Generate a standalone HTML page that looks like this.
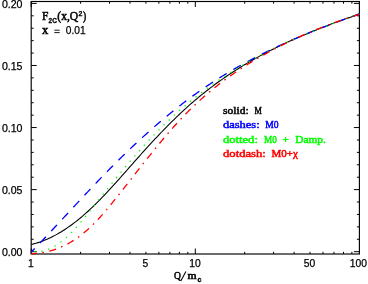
<!DOCTYPE html>
<html><head><meta charset="utf-8">
<style>
html,body{margin:0;padding:0;background:#fff;}
body{width:368px;height:284px;overflow:hidden;}
svg{display:block;will-change:transform;}
text{font-family:"Liberation Sans",sans-serif;}
.num{font-family:"Liberation Sans",sans-serif;font-size:10.3px;fill:#000;stroke:#000;stroke-width:0.25;font-weight:normal;}
.ser,.ser text{font-family:"Liberation Serif",serif;font-weight:normal;font-size:11.4px;stroke-width:0.55;word-spacing:2.5px;}
.k{fill:#000;stroke:#000} .b{fill:#00f;stroke:#00f} .g{fill:#0f0;stroke:#0f0} .r{fill:#f00;stroke:#f00}
</style></head><body>
<svg width="368" height="284" viewBox="0 0 368 284">
<rect x="0" y="0" width="368" height="284" fill="#fff"/>
<rect x="31.2" y="1.5" width="328.20" height="252.50" fill="none" stroke="#000" stroke-width="1.15"/>
<path d="M31.20 251.70h5.5 M359.40 251.70h-5.5 M31.20 239.28h2.5 M359.40 239.28h-2.5 M31.20 226.87h2.5 M359.40 226.87h-2.5 M31.20 214.45h2.5 M359.40 214.45h-2.5 M31.20 202.04h2.5 M359.40 202.04h-2.5 M31.20 189.62h5.5 M359.40 189.62h-5.5 M31.20 177.21h2.5 M359.40 177.21h-2.5 M31.20 164.79h2.5 M359.40 164.79h-2.5 M31.20 152.38h2.5 M359.40 152.38h-2.5 M31.20 139.97h2.5 M359.40 139.97h-2.5 M31.20 127.55h5.5 M359.40 127.55h-5.5 M31.20 115.13h2.5 M359.40 115.13h-2.5 M31.20 102.72h2.5 M359.40 102.72h-2.5 M31.20 90.31h2.5 M359.40 90.31h-2.5 M31.20 77.89h2.5 M359.40 77.89h-2.5 M31.20 65.48h5.5 M359.40 65.48h-5.5 M31.20 53.06h2.5 M359.40 53.06h-2.5 M31.20 40.65h2.5 M359.40 40.65h-2.5 M31.20 28.23h2.5 M359.40 28.23h-2.5 M31.20 15.81h2.5 M359.40 15.81h-2.5 M31.20 3.40h5.5 M359.40 3.40h-5.5 M31.20 254.00v-5.5 M31.20 1.50v5.5 M80.60 254.00v-2.2 M80.60 1.50v2.2 M109.50 254.00v-2.2 M109.50 1.50v2.2 M130.00 254.00v-2.2 M130.00 1.50v2.2 M145.90 254.00v-2.2 M145.90 1.50v2.2 M158.89 254.00v-2.2 M158.89 1.50v2.2 M169.88 254.00v-2.2 M169.88 1.50v2.2 M179.40 254.00v-2.2 M179.40 1.50v2.2 M187.79 254.00v-2.2 M187.79 1.50v2.2 M195.30 254.00v-5.5 M195.30 1.50v5.5 M244.70 254.00v-2.2 M244.70 1.50v2.2 M273.60 254.00v-2.2 M273.60 1.50v2.2 M294.10 254.00v-2.2 M294.10 1.50v2.2 M310.00 254.00v-2.2 M310.00 1.50v2.2 M322.99 254.00v-2.2 M322.99 1.50v2.2 M333.98 254.00v-2.2 M333.98 1.50v2.2 M343.50 254.00v-2.2 M343.50 1.50v2.2 M351.89 254.00v-2.2 M351.89 1.50v2.2" stroke="#000" stroke-width="1" fill="none"/>
<g fill="none" stroke-width="1.3">
<path d="M31.20 244.45 L32.57 244.14 L33.95 243.79 L35.32 243.42 L36.69 243.03 L38.07 242.61 L39.44 242.16 L40.81 241.69 L42.19 241.19 L43.56 240.67 L44.93 240.12 L46.31 239.55 L47.68 238.96 L49.05 238.34 L50.43 237.69 L51.80 237.02 L53.17 236.33 L54.54 235.62 L55.92 234.88 L57.29 234.11 L58.66 233.33 L60.04 232.52 L61.41 231.68 L62.78 230.83 L64.16 229.95 L65.53 229.05 L66.90 228.13 L68.28 227.18 L69.65 226.22 L71.02 225.23 L72.40 224.22 L73.77 223.19 L75.14 222.14 L76.52 221.06 L77.89 219.97 L79.26 218.85 L80.64 217.72 L82.01 216.56 L83.38 215.38 L84.76 214.19 L86.13 212.97 L87.50 211.73 L88.88 210.48 L90.25 209.20 L91.62 207.91 L92.99 206.59 L94.37 205.26 L95.74 203.91 L97.11 202.55 L98.49 201.17 L99.86 199.78 L101.23 198.37 L102.61 196.94 L103.98 195.51 L105.35 194.06 L106.73 192.60 L108.10 191.13 L109.47 189.65 L110.85 188.15 L112.22 186.65 L113.59 185.15 L114.97 183.63 L116.34 182.11 L117.71 180.58 L119.09 179.04 L120.46 177.50 L121.83 175.96 L123.21 174.41 L124.58 172.86 L125.95 171.30 L127.33 169.75 L128.70 168.19 L130.07 166.63 L131.45 165.08 L132.82 163.52 L134.19 161.97 L135.56 160.42 L136.94 158.87 L138.31 157.32 L139.68 155.78 L141.06 154.25 L142.43 152.72 L143.80 151.19 L145.18 149.67 L146.55 148.16 L147.92 146.66 L149.30 145.16 L150.67 143.67 L152.04 142.18 L153.42 140.70 L154.79 139.23 L156.16 137.77 L157.54 136.32 L158.91 134.87 L160.28 133.43 L161.66 132.00 L163.03 130.58 L164.40 129.16 L165.78 127.76 L167.15 126.36 L168.52 124.98 L169.90 123.60 L171.27 122.23 L172.64 120.88 L174.02 119.53 L175.39 118.19 L176.76 116.86 L178.13 115.55 L179.51 114.24 L180.88 112.95 L182.25 111.67 L183.63 110.39 L185.00 109.13 L186.37 107.89 L187.75 106.65 L189.12 105.42 L190.49 104.21 L191.87 103.01 L193.24 101.82 L194.61 100.64 L195.99 99.48 L197.36 98.32 L198.73 97.18 L200.11 96.04 L201.48 94.92 L202.85 93.81 L204.23 92.71 L205.60 91.62 L206.97 90.54 L208.35 89.48 L209.72 88.42 L211.09 87.37 L212.47 86.33 L213.84 85.31 L215.21 84.29 L216.58 83.28 L217.96 82.28 L219.33 81.30 L220.70 80.32 L222.08 79.35 L223.45 78.39 L224.82 77.44 L226.20 76.50 L227.57 75.57 L228.94 74.64 L230.32 73.73 L231.69 72.82 L233.06 71.93 L234.44 71.04 L235.81 70.16 L237.18 69.29 L238.56 68.42 L239.93 67.57 L241.30 66.72 L242.68 65.88 L244.05 65.05 L245.42 64.23 L246.80 63.41 L248.17 62.60 L249.54 61.80 L250.92 61.01 L252.29 60.22 L253.66 59.44 L255.04 58.67 L256.41 57.91 L257.78 57.15 L259.15 56.40 L260.53 55.65 L261.90 54.91 L263.27 54.18 L264.65 53.45 L266.02 52.73 L267.39 52.02 L268.77 51.31 L270.14 50.61 L271.51 49.91 L272.89 49.22 L274.26 48.54 L275.63 47.86 L277.01 47.18 L278.38 46.52 L279.75 45.85 L281.13 45.19 L282.50 44.54 L283.87 43.89 L285.25 43.25 L286.62 42.61 L287.99 41.97 L289.37 41.35 L290.74 40.72 L292.11 40.10 L293.49 39.49 L294.86 38.87 L296.23 38.27 L297.61 37.67 L298.98 37.07 L300.35 36.47 L301.72 35.88 L303.10 35.30 L304.47 34.72 L305.84 34.14 L307.22 33.57 L308.59 33.00 L309.96 32.43 L311.34 31.87 L312.71 31.31 L314.08 30.76 L315.46 30.20 L316.83 29.66 L318.20 29.11 L319.58 28.57 L320.95 28.03 L322.32 27.50 L323.70 26.97 L325.07 26.44 L326.44 25.92 L327.82 25.39 L329.19 24.87 L330.56 24.36 L331.94 23.85 L333.31 23.33 L334.68 22.83 L336.06 22.32 L337.43 21.82 L338.80 21.32 L340.17 20.82 L341.55 20.32 L342.92 19.83 L344.29 19.34 L345.67 18.85 L347.04 18.37 L348.41 17.88 L349.79 17.40 L351.16 16.92 L352.53 16.44 L353.91 15.96 L355.28 15.49 L356.65 15.01 L358.03 14.54 L359.40 14.07" stroke="#000" stroke-width="1.08"/>
<path d="M31.20 252.14 L32.57 250.72 L33.95 249.29 L35.32 247.86 L36.69 246.43 L38.07 244.99 L39.44 243.55 L40.81 242.11 L42.19 240.66 L43.56 239.21 L44.93 237.76 L46.31 236.30 L47.68 234.84 L49.05 233.38 L50.43 231.91 L51.80 230.44 L53.17 228.97 L54.54 227.50 L55.92 226.03 L57.29 224.56 L58.66 223.08 L60.04 221.60 L61.41 220.12 L62.78 218.65 L64.16 217.17 L65.53 215.69 L66.90 214.21 L68.28 212.73 L69.65 211.25 L71.02 209.77 L72.40 208.29 L73.77 206.81 L75.14 205.33 L76.52 203.86 L77.89 202.38 L79.26 200.91 L80.64 199.43 L82.01 197.96 L83.38 196.49 L84.76 195.03 L86.13 193.56 L87.50 192.10 L88.88 190.64 L90.25 189.19 L91.62 187.73 L92.99 186.28 L94.37 184.84 L95.74 183.39 L97.11 181.95 L98.49 180.52 L99.86 179.09 L101.23 177.66 L102.61 176.24 L103.98 174.82 L105.35 173.40 L106.73 172.00 L108.10 170.59 L109.47 169.20 L110.85 167.80 L112.22 166.42 L113.59 165.04 L114.97 163.66 L116.34 162.29 L117.71 160.93 L119.09 159.57 L120.46 158.22 L121.83 156.87 L123.21 155.53 L124.58 154.19 L125.95 152.87 L127.33 151.54 L128.70 150.23 L130.07 148.91 L131.45 147.61 L132.82 146.31 L134.19 145.02 L135.56 143.73 L136.94 142.45 L138.31 141.18 L139.68 139.91 L141.06 138.65 L142.43 137.39 L143.80 136.14 L145.18 134.90 L146.55 133.66 L147.92 132.43 L149.30 131.21 L150.67 129.99 L152.04 128.78 L153.42 127.58 L154.79 126.38 L156.16 125.19 L157.54 124.01 L158.91 122.83 L160.28 121.66 L161.66 120.50 L163.03 119.34 L164.40 118.19 L165.78 117.04 L167.15 115.91 L168.52 114.78 L169.90 113.65 L171.27 112.54 L172.64 111.43 L174.02 110.33 L175.39 109.23 L176.76 108.14 L178.13 107.06 L179.51 105.99 L180.88 104.92 L182.25 103.86 L183.63 102.81 L185.00 101.76 L186.37 100.73 L187.75 99.70 L189.12 98.67 L190.49 97.66 L191.87 96.65 L193.24 95.65 L194.61 94.65 L195.99 93.67 L197.36 92.69 L198.73 91.72 L200.11 90.75 L201.48 89.80 L202.85 88.85 L204.23 87.91 L205.60 86.97 L206.97 86.04 L208.35 85.12 L209.72 84.21 L211.09 83.30 L212.47 82.40 L213.84 81.51 L215.21 80.62 L216.58 79.74 L217.96 78.87 L219.33 78.00 L220.70 77.14 L222.08 76.29 L223.45 75.44 L224.82 74.60 L226.20 73.77 L227.57 72.94 L228.94 72.12 L230.32 71.31 L231.69 70.50 L233.06 69.69 L234.44 68.89 L235.81 68.10 L237.18 67.32 L238.56 66.54 L239.93 65.76 L241.30 65.00 L242.68 64.23 L244.05 63.48 L245.42 62.72 L246.80 61.98 L248.17 61.24 L249.54 60.50 L250.92 59.77 L252.29 59.05 L253.66 58.33 L255.04 57.61 L256.41 56.90 L257.78 56.20 L259.15 55.50 L260.53 54.80 L261.90 54.11 L263.27 53.43 L264.65 52.75 L266.02 52.07 L267.39 51.40 L268.77 50.73 L270.14 50.07 L271.51 49.41 L272.89 48.76 L274.26 48.11 L275.63 47.47 L277.01 46.83 L278.38 46.19 L279.75 45.56 L281.13 44.93 L282.50 44.30 L283.87 43.68 L285.25 43.07 L286.62 42.45 L287.99 41.85 L289.37 41.24 L290.74 40.64 L292.11 40.04 L293.49 39.45 L294.86 38.86 L296.23 38.27 L297.61 37.68 L298.98 37.10 L300.35 36.52 L301.72 35.95 L303.10 35.38 L304.47 34.81 L305.84 34.24 L307.22 33.68 L308.59 33.12 L309.96 32.57 L311.34 32.01 L312.71 31.46 L314.08 30.91 L315.46 30.37 L316.83 29.82 L318.20 29.28 L319.58 28.74 L320.95 28.21 L322.32 27.67 L323.70 27.14 L325.07 26.61 L326.44 26.09 L327.82 25.56 L329.19 25.04 L330.56 24.52 L331.94 24.00 L333.31 23.48 L334.68 22.97 L336.06 22.45 L337.43 21.94 L338.80 21.43 L340.17 20.92 L341.55 20.41 L342.92 19.91 L344.29 19.40 L345.67 18.90 L347.04 18.40 L348.41 17.90 L349.79 17.40 L351.16 16.90 L352.53 16.41 L353.91 15.91 L355.28 15.41 L356.65 14.92 L358.03 14.43 L359.40 13.93" stroke="#0000ff" stroke-dasharray="8.6 7.7" stroke-dashoffset="3.6"/>
<path d="M31.20 251.00 L32.57 251.24 L33.95 251.41 L35.32 251.51 L36.69 251.55 L38.07 251.51 L39.44 251.41 L40.81 251.24 L42.19 251.01 L43.56 250.72 L44.93 250.36 L46.31 249.94 L47.68 249.46 L49.05 248.92 L50.43 248.33 L51.80 247.67 L53.17 246.96 L54.54 246.19 L55.92 245.36 L57.29 244.49 L58.66 243.55 L60.04 242.57 L61.41 241.54 L62.78 240.45 L64.16 239.31 L65.53 238.13 L66.90 236.90 L68.28 235.62 L69.65 234.30 L71.02 232.93 L72.40 231.53 L73.77 230.08 L75.14 228.61 L76.52 227.09 L77.89 225.55 L79.26 223.98 L80.64 222.38 L82.01 220.75 L83.38 219.11 L84.76 217.44 L86.13 215.76 L87.50 214.05 L88.88 212.34 L90.25 210.61 L91.62 208.88 L92.99 207.13 L94.37 205.38 L95.74 203.63 L97.11 201.88 L98.49 200.13 L99.86 198.38 L101.23 196.64 L102.61 194.90 L103.98 193.16 L105.35 191.43 L106.73 189.71 L108.10 187.99 L109.47 186.28 L110.85 184.57 L112.22 182.86 L113.59 181.17 L114.97 179.48 L116.34 177.79 L117.71 176.12 L119.09 174.44 L120.46 172.78 L121.83 171.13 L123.21 169.48 L124.58 167.84 L125.95 166.20 L127.33 164.58 L128.70 162.96 L130.07 161.35 L131.45 159.75 L132.82 158.16 L134.19 156.58 L135.56 155.01 L136.94 153.45 L138.31 151.89 L139.68 150.35 L141.06 148.82 L142.43 147.30 L143.80 145.78 L145.18 144.28 L146.55 142.79 L147.92 141.32 L149.30 139.85 L150.67 138.39 L152.04 136.95 L153.42 135.52 L154.79 134.10 L156.16 132.69 L157.54 131.30 L158.91 129.92 L160.28 128.54 L161.66 127.19 L163.03 125.84 L164.40 124.50 L165.78 123.18 L167.15 121.87 L168.52 120.57 L169.90 119.28 L171.27 118.00 L172.64 116.74 L174.02 115.48 L175.39 114.24 L176.76 113.01 L178.13 111.79 L179.51 110.58 L180.88 109.38 L182.25 108.19 L183.63 107.01 L185.00 105.84 L186.37 104.68 L187.75 103.54 L189.12 102.40 L190.49 101.27 L191.87 100.16 L193.24 99.05 L194.61 97.95 L195.99 96.87 L197.36 95.79 L198.73 94.72 L200.11 93.66 L201.48 92.62 L202.85 91.58 L204.23 90.55 L205.60 89.53 L206.97 88.52 L208.35 87.51 L209.72 86.52 L211.09 85.54 L212.47 84.56 L213.84 83.60 L215.21 82.64 L216.58 81.69 L217.96 80.75 L219.33 79.82 L220.70 78.89 L222.08 77.98 L223.45 77.07 L224.82 76.17 L226.20 75.28 L227.57 74.40 L228.94 73.52 L230.32 72.65 L231.69 71.79 L233.06 70.94 L234.44 70.10 L235.81 69.26 L237.18 68.43 L238.56 67.61 L239.93 66.79 L241.30 65.98 L242.68 65.18 L244.05 64.38 L245.42 63.60 L246.80 62.81 L248.17 62.04 L249.54 61.27 L250.92 60.51 L252.29 59.75 L253.66 59.01 L255.04 58.26 L256.41 57.53 L257.78 56.80 L259.15 56.07 L260.53 55.35 L261.90 54.64 L263.27 53.93 L264.65 53.23 L266.02 52.54 L267.39 51.85 L268.77 51.16 L270.14 50.48 L271.51 49.81 L272.89 49.14 L274.26 48.47 L275.63 47.81 L277.01 47.16 L278.38 46.51 L279.75 45.86 L281.13 45.22 L282.50 44.59 L283.87 43.96 L285.25 43.33 L286.62 42.71 L287.99 42.09 L289.37 41.48 L290.74 40.87 L292.11 40.26 L293.49 39.66 L294.86 39.06 L296.23 38.46 L297.61 37.87 L298.98 37.28 L300.35 36.70 L301.72 36.12 L303.10 35.54 L304.47 34.97 L305.84 34.40 L307.22 33.83 L308.59 33.26 L309.96 32.70 L311.34 32.14 L312.71 31.58 L314.08 31.03 L315.46 30.48 L316.83 29.93 L318.20 29.38 L319.58 28.84 L320.95 28.29 L322.32 27.75 L323.70 27.21 L325.07 26.68 L326.44 26.14 L327.82 25.61 L329.19 25.08 L330.56 24.55 L331.94 24.02 L333.31 23.49 L334.68 22.97 L336.06 22.44 L337.43 21.92 L338.80 21.40 L340.17 20.88 L341.55 20.36 L342.92 19.84 L344.29 19.32 L345.67 18.80 L347.04 18.29 L348.41 17.77 L349.79 17.25 L351.16 16.74 L352.53 16.22 L353.91 15.71 L355.28 15.19 L356.65 14.68 L358.03 14.16 L359.40 13.65" stroke="#00ff00" stroke-dasharray="1.3 5.8" stroke-width="1.35" stroke-dashoffset="-3.05"/>
<path d="M31.20 253.70 L32.57 253.70 L33.95 253.62 L35.32 253.52 L36.69 253.39 L38.07 253.24 L39.44 253.07 L40.81 252.87 L42.19 252.66 L43.56 252.42 L44.93 252.15 L46.31 251.86 L47.68 251.55 L49.05 251.21 L50.43 250.85 L51.80 250.46 L53.17 250.04 L54.54 249.60 L55.92 249.13 L57.29 248.63 L58.66 248.10 L60.04 247.55 L61.41 246.96 L62.78 246.35 L64.16 245.70 L65.53 245.02 L66.90 244.31 L68.28 243.57 L69.65 242.80 L71.02 242.00 L72.40 241.16 L73.77 240.29 L75.14 239.38 L76.52 238.44 L77.89 237.47 L79.26 236.47 L80.64 235.43 L82.01 234.36 L83.38 233.26 L84.76 232.12 L86.13 230.95 L87.50 229.75 L88.88 228.51 L90.25 227.25 L91.62 225.95 L92.99 224.62 L94.37 223.25 L95.74 221.85 L97.11 220.42 L98.49 218.96 L99.86 217.47 L101.23 215.94 L102.61 214.38 L103.98 212.80 L105.35 211.19 L106.73 209.55 L108.10 207.90 L109.47 206.23 L110.85 204.55 L112.22 202.87 L113.59 201.17 L114.97 199.46 L116.34 197.75 L117.71 196.04 L119.09 194.32 L120.46 192.59 L121.83 190.86 L123.21 189.13 L124.58 187.39 L125.95 185.65 L127.33 183.90 L128.70 182.16 L130.07 180.41 L131.45 178.66 L132.82 176.91 L134.19 175.16 L135.56 173.41 L136.94 171.66 L138.31 169.92 L139.68 168.17 L141.06 166.43 L142.43 164.69 L143.80 162.95 L145.18 161.22 L146.55 159.49 L147.92 157.76 L149.30 156.04 L150.67 154.33 L152.04 152.62 L153.42 150.92 L154.79 149.23 L156.16 147.54 L157.54 145.86 L158.91 144.19 L160.28 142.53 L161.66 140.88 L163.03 139.23 L164.40 137.60 L165.78 135.98 L167.15 134.37 L168.52 132.77 L169.90 131.19 L171.27 129.62 L172.64 128.06 L174.02 126.51 L175.39 124.98 L176.76 123.46 L178.13 121.96 L179.51 120.48 L180.88 119.01 L182.25 117.55 L183.63 116.12 L185.00 114.70 L186.37 113.29 L187.75 111.90 L189.12 110.53 L190.49 109.18 L191.87 107.83 L193.24 106.51 L194.61 105.20 L195.99 103.90 L197.36 102.62 L198.73 101.36 L200.11 100.11 L201.48 98.87 L202.85 97.65 L204.23 96.44 L205.60 95.25 L206.97 94.06 L208.35 92.90 L209.72 91.74 L211.09 90.60 L212.47 89.47 L213.84 88.35 L215.21 87.25 L216.58 86.16 L217.96 85.08 L219.33 84.01 L220.70 82.96 L222.08 81.91 L223.45 80.88 L224.82 79.86 L226.20 78.85 L227.57 77.85 L228.94 76.86 L230.32 75.88 L231.69 74.92 L233.06 73.96 L234.44 73.01 L235.81 72.07 L237.18 71.15 L238.56 70.23 L239.93 69.32 L241.30 68.42 L242.68 67.53 L244.05 66.64 L245.42 65.77 L246.80 64.90 L248.17 64.05 L249.54 63.20 L250.92 62.35 L252.29 61.52 L253.66 60.69 L255.04 59.87 L256.41 59.06 L257.78 58.26 L259.15 57.46 L260.53 56.67 L261.90 55.88 L263.27 55.10 L264.65 54.33 L266.02 53.56 L267.39 52.80 L268.77 52.05 L270.14 51.31 L271.51 50.57 L272.89 49.83 L274.26 49.10 L275.63 48.38 L277.01 47.67 L278.38 46.96 L279.75 46.25 L281.13 45.56 L282.50 44.87 L283.87 44.18 L285.25 43.50 L286.62 42.83 L287.99 42.16 L289.37 41.50 L290.74 40.84 L292.11 40.19 L293.49 39.55 L294.86 38.91 L296.23 38.27 L297.61 37.65 L298.98 37.02 L300.35 36.41 L301.72 35.79 L303.10 35.19 L304.47 34.59 L305.84 33.99 L307.22 33.40 L308.59 32.81 L309.96 32.23 L311.34 31.65 L312.71 31.08 L314.08 30.52 L315.46 29.96 L316.83 29.40 L318.20 28.85 L319.58 28.30 L320.95 27.76 L322.32 27.22 L323.70 26.69 L325.07 26.16 L326.44 25.64 L327.82 25.12 L329.19 24.60 L330.56 24.09 L331.94 23.59 L333.31 23.09 L334.68 22.59 L336.06 22.10 L337.43 21.61 L338.80 21.12 L340.17 20.64 L341.55 20.17 L342.92 19.69 L344.29 19.23 L345.67 18.76 L347.04 18.30 L348.41 17.84 L349.79 17.39 L351.16 16.94 L352.53 16.50 L353.91 16.05 L355.28 15.62 L356.65 15.18 L358.03 14.75 L359.40 14.32" stroke="#ff0000" stroke-dasharray="7.2 5.4 1.6 5.4" stroke-dashoffset="1.4"/>
</g>
<g class="num">
<text x="1.9" y="8.47" textLength="20.6" lengthAdjust="spacingAndGlyphs">0.20</text>
<text x="1.9" y="70.18" textLength="20.6" lengthAdjust="spacingAndGlyphs">0.15</text>
<text x="1.9" y="132.25" textLength="20.6" lengthAdjust="spacingAndGlyphs">0.10</text>
<text x="1.9" y="194.32" textLength="20.6" lengthAdjust="spacingAndGlyphs">0.05</text>
<text x="1.9" y="256.40" textLength="20.6" lengthAdjust="spacingAndGlyphs">0.00</text>
<text x="30.90" y="266.9" text-anchor="middle">1</text>
<text x="145.30" y="266.9" text-anchor="middle">5</text>
<text x="195.00" y="266.9" text-anchor="middle">10</text>
<text x="309.50" y="266.9" text-anchor="middle">50</text>
<text x="358.40" y="266.9" text-anchor="middle">100</text>
</g>
<!-- axis title -->
<g class="ser k">
<text x="173.9" y="279.0" style="font-size:11px" textLength="6.9" lengthAdjust="spacingAndGlyphs">Q</text>
<path d="M185.9 271.6L180.8 280.9" stroke="#000" stroke-width="1.05" fill="none"/>
<text x="187.4" y="279.0" style="font-size:11px" textLength="9.1" lengthAdjust="spacingAndGlyphs">m</text>
<text x="197.6" y="281.7" style="font-family:'Liberation Sans',sans-serif;font-size:7px;font-weight:bold;stroke-width:0.4">c</text>
<!-- top-left label -->
<text x="42.1" y="19.9" style="font-size:12.4px" textLength="6.4" lengthAdjust="spacingAndGlyphs">F</text>
<text x="48.6" y="22.6" style="font-family:'Liberation Sans',sans-serif;font-size:7px;font-weight:bold;stroke-width:0.3" textLength="8.3" lengthAdjust="spacingAndGlyphs">2C</text>
<text x="57.3" y="19.9" style="font-size:12.4px" textLength="20.9" lengthAdjust="spacingAndGlyphs">(x,Q</text>
<text x="78.5" y="15.5" style="font-family:'Liberation Sans',sans-serif;font-size:7px;font-weight:bold;stroke-width:0.25">2</text>
<text x="82.9" y="19.9" style="font-size:12.4px" textLength="3.2" lengthAdjust="spacingAndGlyphs">)</text>
<text x="42.1" y="34.1" style="font-size:12px" textLength="6.3" lengthAdjust="spacingAndGlyphs">x</text>
<path d="M54.3 30.2h5.4M54.3 32.6h5.4" stroke="#000" stroke-width="0.9" fill="none"/>
</g>
<text class="num" x="65.8" y="34.1" textLength="19.8" lengthAdjust="spacingAndGlyphs">0.01</text>
<!-- legend -->
<text class="ser k" x="223" y="113.8" textLength="25.6" lengthAdjust="spacingAndGlyphs">solid:</text>
<text class="ser k" x="254.4" y="113.8" textLength="7.3" lengthAdjust="spacingAndGlyphs">M</text>
<text class="ser b" x="223" y="128.2" textLength="36.6" lengthAdjust="spacingAndGlyphs">dashes:</text>
<text class="ser b" x="265.2" y="128.2" textLength="13.4" lengthAdjust="spacingAndGlyphs">M0</text>
<text class="ser g" x="223" y="142.6" textLength="34.9" lengthAdjust="spacingAndGlyphs">dotted:</text>
<text class="ser g" x="264.0" y="142.6" textLength="12.8" lengthAdjust="spacingAndGlyphs">M0</text>
<text class="ser g" x="282.6" y="142.6" textLength="6.4" lengthAdjust="spacingAndGlyphs">+</text>
<text class="ser g" x="295.2" y="142.6" textLength="30.7" lengthAdjust="spacingAndGlyphs">Damp.</text>
<text class="ser r" x="223" y="157.0" textLength="42.9" lengthAdjust="spacingAndGlyphs">dotdash:</text>
<text class="ser r" x="271.5" y="157.0" textLength="26.4" lengthAdjust="spacingAndGlyphs">M0+&#967;</text>
</svg>
</body></html>
